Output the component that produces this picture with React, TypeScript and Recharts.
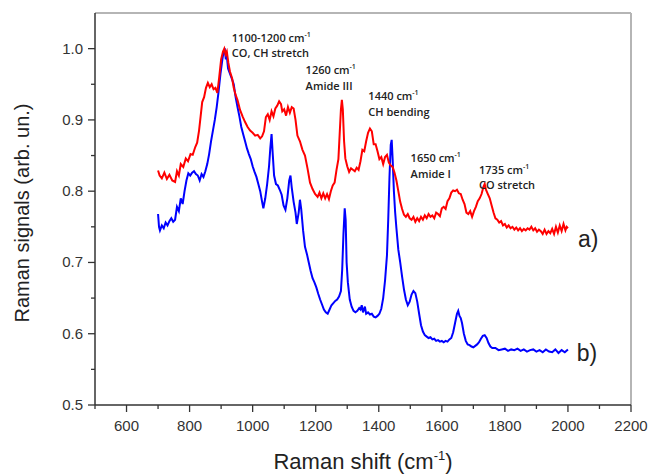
import React from "react";
import {
  LineChart,
  Line,
  XAxis,
  YAxis,
  ReferenceLine,
  ReferenceDot,
  Label,
} from "recharts";

// spectrum a) (red)
const shiftA = [
  700, 705, 712, 720, 728, 736, 745, 754, 760, 766, 772, 780, 788, 795, 803, 810, 818, 824, 830, 835,
  840, 846, 852, 858, 864, 870, 876, 882, 888, 894, 900, 906, 910, 914, 918, 923, 928, 935, 940, 946,
  952, 960, 968, 976, 984, 992, 1000, 1008, 1016, 1024, 1030, 1036, 1042, 1048, 1054, 1060, 1066, 1072, 1078, 1084,
  1090, 1094, 1100, 1106, 1112, 1118, 1124, 1130, 1136, 1142, 1150, 1158, 1166, 1174, 1182, 1190, 1198, 1206, 1212, 1218,
  1224, 1230, 1236, 1242, 1248, 1254, 1260, 1266, 1272, 1276, 1280, 1283, 1286, 1290, 1294, 1300, 1306, 1312, 1318, 1324,
  1330, 1336, 1342, 1348, 1354, 1360, 1366, 1372, 1378, 1384, 1390, 1396, 1402, 1408, 1414, 1420, 1426, 1432, 1438, 1444,
  1450, 1456, 1462, 1468, 1474, 1480, 1486, 1492, 1498, 1504, 1510, 1516, 1522, 1528, 1534, 1540, 1546, 1552, 1558, 1564,
  1570, 1576, 1582, 1588, 1594, 1600, 1606, 1612, 1618, 1624, 1630, 1636, 1642, 1648, 1654, 1660, 1666, 1672, 1678, 1684,
  1690, 1696, 1702, 1708, 1714, 1720, 1726, 1732, 1736, 1740, 1746, 1752, 1758, 1764, 1770, 1776, 1782, 1788, 1794, 1800,
  1806, 1812, 1818, 1824, 1830, 1836, 1842, 1848, 1854, 1860, 1866, 1872, 1878, 1884, 1890, 1896, 1902, 1908, 1914, 1920,
  1926, 1932, 1938, 1944, 1950, 1956, 1962, 1968, 1974, 1980, 1986, 1992, 1996, 2000,
];
const signalA = [
  0.829, 0.822, 0.818, 0.826, 0.817, 0.823, 0.815, 0.813, 0.828, 0.822, 0.838, 0.834, 0.846, 0.842, 0.852, 0.851, 0.862, 0.868, 0.885, 0.905,
  0.925, 0.932, 0.945, 0.952, 0.946, 0.95, 0.943, 0.945, 0.938, 0.96, 0.985, 0.996, 1.0, 0.992, 0.996, 0.98, 0.968, 0.958, 0.945, 0.935,
  0.928, 0.914, 0.905, 0.897, 0.89, 0.885, 0.882, 0.878, 0.879, 0.874, 0.877, 0.884, 0.904, 0.908, 0.9, 0.912, 0.905, 0.916, 0.92, 0.926,
  0.922, 0.912, 0.915, 0.906, 0.918, 0.91, 0.918, 0.916, 0.9, 0.878, 0.87, 0.858, 0.85, 0.832, 0.812, 0.803, 0.796, 0.792, 0.798, 0.79,
  0.797, 0.79, 0.796, 0.789, 0.8, 0.808, 0.812, 0.83, 0.845, 0.88, 0.915, 0.928, 0.915, 0.87, 0.846, 0.835, 0.827, 0.832, 0.83, 0.828,
  0.833, 0.83, 0.842, 0.858, 0.856, 0.87, 0.882, 0.888, 0.884, 0.866, 0.866, 0.856, 0.845, 0.848, 0.838, 0.848, 0.851, 0.84, 0.836, 0.834,
  0.826, 0.815, 0.8, 0.785, 0.775, 0.767, 0.764, 0.768, 0.762, 0.76, 0.764, 0.757, 0.762, 0.758, 0.764, 0.76, 0.766, 0.762, 0.768, 0.764,
  0.766, 0.762, 0.77, 0.768, 0.765, 0.776, 0.778, 0.775, 0.786, 0.79, 0.798, 0.801, 0.8, 0.802, 0.797, 0.796, 0.788, 0.782, 0.77, 0.768,
  0.772, 0.764, 0.772, 0.778, 0.786, 0.79, 0.796, 0.806, 0.81, 0.802, 0.796, 0.79, 0.78, 0.77, 0.762, 0.76, 0.756, 0.758, 0.752, 0.754,
  0.749, 0.752, 0.748, 0.75, 0.746, 0.749, 0.745, 0.748, 0.744, 0.747, 0.745, 0.748, 0.746, 0.75, 0.745, 0.748, 0.743, 0.746, 0.744, 0.74,
  0.746, 0.74, 0.744, 0.741, 0.747, 0.74, 0.75, 0.742, 0.752, 0.744, 0.754, 0.745, 0.75, 0.748,
];

// spectrum b) (blue)
const shiftB = [
  700, 703, 706, 712, 718, 724, 730, 736, 742, 748, 754, 760, 766, 772, 778, 784, 790, 796, 802, 808,
  814, 820, 826, 832, 838, 844, 850, 856, 862, 868, 874, 880, 886, 892, 898, 904, 908, 912, 915, 918,
  922, 928, 934, 940, 946, 952, 958, 964, 970, 976, 982, 988, 994, 1000, 1006, 1012, 1018, 1024, 1030, 1034,
  1040, 1046, 1052, 1056, 1060, 1064, 1068, 1074, 1080, 1086, 1092, 1098, 1104, 1110, 1116, 1120, 1124, 1130, 1136, 1140,
  1146, 1150, 1154, 1160, 1166, 1172, 1178, 1184, 1190, 1196, 1202, 1208, 1214, 1220, 1226, 1232, 1238, 1244, 1250, 1256,
  1262, 1268, 1274, 1280, 1284, 1288, 1292, 1295, 1298, 1302, 1308, 1314, 1320, 1326, 1332, 1338, 1342, 1346, 1350, 1356,
  1360, 1366, 1372, 1378, 1384, 1390, 1396, 1402, 1408, 1414, 1420, 1426, 1430, 1434, 1438, 1441, 1444, 1448, 1452, 1456,
  1462, 1468, 1474, 1480, 1486, 1492, 1498, 1504, 1510, 1516, 1522, 1528, 1534, 1540, 1546, 1552, 1558, 1564, 1570, 1576,
  1582, 1588, 1594, 1600, 1606, 1612, 1618, 1624, 1630, 1636, 1642, 1648, 1652, 1656, 1660, 1664, 1670, 1676, 1682, 1688,
  1694, 1700, 1706, 1712, 1718, 1724, 1730, 1736, 1742, 1748, 1754, 1760, 1770, 1780, 1790, 1800, 1810, 1820, 1830, 1840,
  1850, 1860, 1870, 1880, 1890, 1900, 1910, 1920, 1930, 1940, 1950, 1960, 1970, 1980, 1990, 2000,
];
const signalB = [
  0.768, 0.75, 0.745, 0.752, 0.748, 0.756, 0.752, 0.758, 0.762, 0.757, 0.76, 0.778, 0.772, 0.79, 0.782, 0.8, 0.815, 0.825, 0.822, 0.826,
  0.828, 0.824, 0.822, 0.815, 0.824, 0.82, 0.828, 0.838, 0.852, 0.87, 0.885, 0.9, 0.918, 0.94, 0.965, 0.985, 0.996, 0.998, 0.985, 0.99,
  0.972, 0.965, 0.958, 0.95, 0.932, 0.918, 0.905, 0.89, 0.88, 0.87, 0.86, 0.852, 0.845, 0.835, 0.827, 0.82, 0.81, 0.8, 0.785, 0.776,
  0.79, 0.81, 0.835, 0.86, 0.88, 0.85, 0.822, 0.81, 0.808, 0.802, 0.795, 0.78, 0.774, 0.79, 0.815, 0.822, 0.805, 0.785, 0.77, 0.754,
  0.77, 0.788, 0.775, 0.745, 0.722, 0.712, 0.7, 0.688, 0.678, 0.672, 0.665, 0.656, 0.648, 0.641, 0.634, 0.63, 0.628, 0.634, 0.64, 0.643,
  0.646, 0.648, 0.652, 0.66, 0.69, 0.74, 0.776, 0.76, 0.7, 0.672, 0.648, 0.638, 0.632, 0.63, 0.632, 0.636, 0.634, 0.64, 0.63, 0.638,
  0.628, 0.63, 0.627, 0.628, 0.624, 0.623, 0.625, 0.628, 0.635, 0.65, 0.675, 0.71, 0.76, 0.82, 0.865, 0.872, 0.845, 0.8, 0.77, 0.748,
  0.718, 0.7, 0.68, 0.662, 0.648, 0.64, 0.645, 0.655, 0.66, 0.657, 0.645, 0.628, 0.612, 0.603, 0.598, 0.596, 0.594, 0.595, 0.592, 0.593,
  0.59, 0.591, 0.589, 0.59, 0.588, 0.59, 0.589, 0.592, 0.594, 0.602, 0.615, 0.628, 0.632, 0.625, 0.622, 0.615, 0.6, 0.59, 0.585, 0.584,
  0.582, 0.581, 0.583, 0.585, 0.588, 0.593, 0.597, 0.598, 0.594, 0.587, 0.582, 0.58, 0.58, 0.577, 0.578, 0.579, 0.576, 0.578, 0.577, 0.579,
  0.576, 0.578, 0.575, 0.577, 0.578, 0.575, 0.577, 0.574, 0.578, 0.575, 0.574, 0.578, 0.573, 0.577, 0.574, 0.578,
];

const xTicks = [500, 600, 700, 800, 900, 1000, 1100, 1200, 1300, 1400, 1500, 1600, 1700, 1800, 1900, 2000, 2100, 2200];
const yTicks = [0.5, 0.55, 0.6, 0.65, 0.7, 0.75, 0.8, 0.85, 0.9, 0.95, 1.0];

// peak annotations, anchored at [shift, signal]
const notePos = [
  [934, 1.0096],
  [1168, 0.9642],
  [1367, 0.9276],
  [1501, 0.8409],
  [1718, 0.8245],
];
const noteWave = ["1100-1200 cm", "1260 cm", "1440 cm", "1650 cm", "1735 cm"];
const noteName = ["CO, CH stretch", "Amide III", "CH bending", "Amide I", "CO stretch"];

const curveTagPos = [
  [2032, 0.7223],
  [2028, 0.562],
];
const curveTag = ["a)", "b)"];

const dataA = shiftA.map((x, i) => ({ x, y: signalA[i] }));
const dataB = shiftB.map((x, i) => ({ x, y: signalB[i] }));

const axisColor = "#333";
const tickFont = "'Liberation Sans', Arial, sans-serif";

const YTick = (props: any) => {
  const { x, y, payload } = props;
  const v = payload.value;
  const major = Math.abs(v * 10 - Math.round(v * 10)) < 1e-6;
  return (
    <g>
      <line x1={x} y1={y} x2={x - (major ? 7 : 4)} y2={y} stroke={axisColor} strokeWidth={1.3} />
      {major && (
        <text x={x - 12} y={y + 5} textAnchor="end" fontSize={15} fill="#333" fontFamily={tickFont}>
          {v.toFixed(1)}
        </text>
      )}
    </g>
  );
};

const XTick = (props: any) => {
  const { x, y, payload } = props;
  const v = payload.value;
  const major = v % 200 === 0;
  return (
    <g>
      <line x1={x} y1={y} x2={x} y2={y + (major ? 7 : 4)} stroke={axisColor} strokeWidth={1.3} />
      {major && (
        <text x={x} y={y + 26} textAnchor="middle" fontSize={15} fill="#333" fontFamily={tickFont}>
          {v}
        </text>
      )}
    </g>
  );
};

const noteLabel = (wave: string, name: string) => (props: any) => {
  const { viewBox } = props;
  const x = viewBox.x;
  const y = viewBox.y;
  const style = { fontFamily: "'Open Sans', sans-serif", fontSize: 11, fontWeight: 600, fill: "#222" };
  return (
    <g>
      <text x={x} y={y} {...style}>
        <tspan>{wave}</tspan>
        <tspan dy={-5} fontSize={7}>-1</tspan>
      </text>
      <text x={x} y={y + 15.5} {...style}>
        {name}
      </text>
    </g>
  );
};

const tagLabel = (tag: string) => (props: any) => {
  const { viewBox } = props;
  return (
    <text x={viewBox.x} y={viewBox.y} fontSize={23} fill="#222" fontFamily={tickFont}>
      {tag}
    </text>
  );
};

const XTitle = (props: any) => {
  const { viewBox } = props;
  const cx = viewBox.x + viewBox.width / 2;
  return (
    <text x={cx} y={viewBox.y + 64} textAnchor="middle" fontSize={22} fill="#222" fontFamily={tickFont}>
      <tspan>Raman shift (cm</tspan>
      <tspan dy={-9} fontSize={13}>-1</tspan>
      <tspan dy={9}>)</tspan>
    </text>
  );
};

const YTitle = (props: any) => {
  const { viewBox } = props;
  const cy = viewBox.y + viewBox.height / 2 + 4;
  const cx = 22;
  return (
    <text
      x={cx}
      y={cy}
      textAnchor="middle"
      dominantBaseline="central"
      fontSize={20}
      fill="#222"
      fontFamily={tickFont}
      transform={`rotate(-90 ${cx} ${cy})`}
    >
      Raman signals (arb. un.)
    </text>
  );
};

export default function App() {
  return (
    <div style={{ position: "absolute", left: 0, top: 0, background: "#fff" }}>
      <LineChart width={650} height={474} margin={{ top: 13, right: 19, left: 0, bottom: 0 }}>
        <XAxis
          type="number"
          dataKey="x"
          domain={[500, 2200]}
          ticks={xTicks}
          interval={0}
          allowDataOverflow
          height={69}
          tickSize={0}
          tickMargin={0}
          tickLine={false}
          tick={<XTick />}
          axisLine={{ stroke: axisColor, strokeWidth: 1.5 }}
        >
          <Label content={<XTitle />} />
        </XAxis>
        <YAxis
          type="number"
          dataKey="y"
          domain={[0.5, 1.05]}
          ticks={yTicks}
          interval={0}
          allowDataOverflow
          width={95}
          tickSize={0}
          tickMargin={0}
          tickLine={false}
          tick={<YTick />}
          axisLine={{ stroke: axisColor, strokeWidth: 1.5 }}
        >
          <Label content={<YTitle />} />
        </YAxis>
        <ReferenceLine y={1.05} stroke="#b5b5b5" strokeWidth={2} />
        <ReferenceLine x={2200} stroke="#b5b5b5" strokeWidth={2} />
        <Line
          data={dataB}
          dataKey="y"
          type="linear"
          stroke="#0000ff"
          strokeWidth={2}
          dot={false}
          isAnimationActive={false}
        />
        <Line
          data={dataA}
          dataKey="y"
          type="linear"
          stroke="#ff0000"
          strokeWidth={2}
          dot={false}
          isAnimationActive={false}
        />
        {notePos.map((p, i) => (
          <ReferenceDot
            key={noteWave[i]}
            x={p[0]}
            y={p[1]}
            r={0}
            fill="none"
            stroke="none"
            ifOverflow="visible"
            label={{ content: noteLabel(noteWave[i], noteName[i]) }}
          />
        ))}
        {curveTagPos.map((p, i) => (
          <ReferenceDot
            key={curveTag[i]}
            x={p[0]}
            y={p[1]}
            r={0}
            fill="none"
            stroke="none"
            ifOverflow="visible"
            label={{ content: tagLabel(curveTag[i]) }}
          />
        ))}
      </LineChart>
    </div>
  );
}
